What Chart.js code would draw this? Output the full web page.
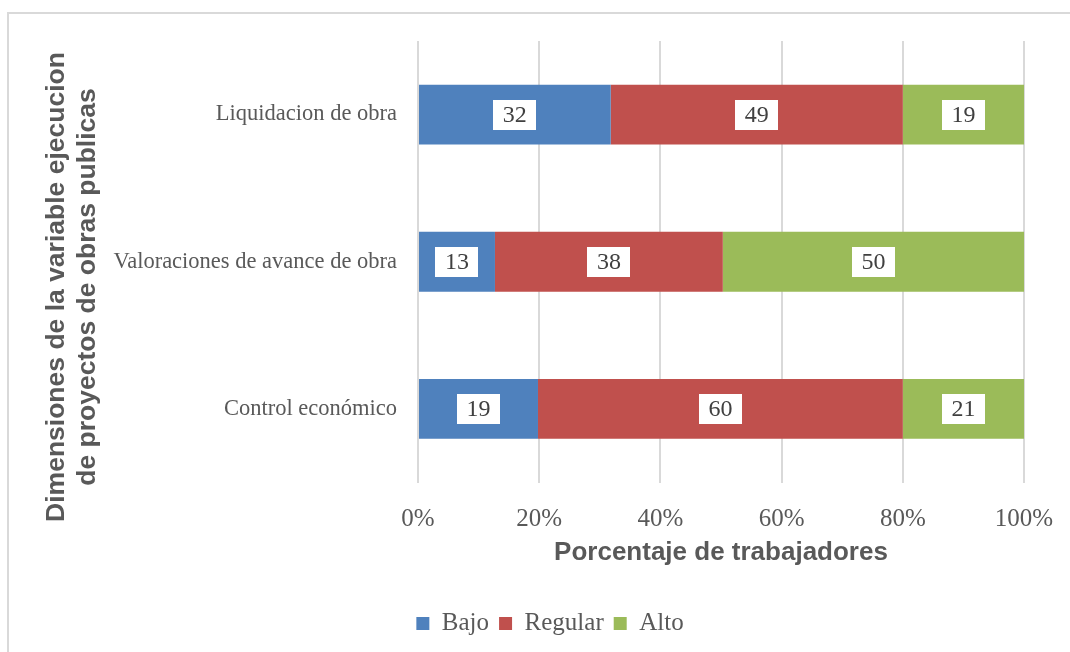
<!DOCTYPE html>
<html>
<head>
<meta charset="utf-8">
<script src="https://cdn.jsdelivr.net/npm/chart.js@4/dist/chart.umd.min.js"></script>
<style>
  html, body { margin: 0; padding: 0; background: #fff; overflow: hidden; }
  #wrap { position: relative; width: 1070px; height: 652px; }
  #frame { position: absolute; left: 7px; top: 12px; width: 1100px; height: 700px; border: 2px solid #d9d9d9; box-sizing: border-box; }
  #chart { position: absolute; left: 0; top: 0; }
</style>
</head>
<body>
<div id="wrap">
  <div id="frame"></div>
  <canvas id="chart" width="1070" height="652"></canvas>
</div>
<script>
// Data
const categories = ['Liquidacion de obra', 'Valoraciones de avance de obra', 'Control económico'];
// printed values in the white label boxes
const bajoLabels = [32, 13, 19];
const regularLabels = [49, 38, 60];
const altoLabels = [19, 50, 21];
// segment lengths (% of each bar) as measured on the bars
const bajo = [31.8, 12.7, 19.8];
const regular = [48.2, 37.6, 60.2];
const alto = [20.0, 49.7, 20.0];
const seriesNames = ['Bajo', 'Regular', 'Alto'];
const xTicks = [0, 20, 40, 60, 80, 100];
const yTitle = ['Dimensiones de la variable ejecucion', 'de proyectos de obras publicas'];
const xTitle = 'Porcentaje de trabajadores';

const colors = ['#4F81BD', '#C0504D', '#9BBB59'];
const serif = '"Liberation Serif", "DejaVu Serif", serif';
const sans = '"Liberation Sans", Arial, sans-serif';

const rows = [bajo, regular, alto];
const labelRows = [bajoLabels, regularLabels, altoLabels];

// white boxes with the printed values in the middle of each segment
const valueLabels = {
  id: 'valueLabels',
  afterDatasetsDraw(chart) {
    const ctx = chart.ctx;
    ctx.save();
    ctx.font = '24px ' + serif;
    ctx.textAlign = 'center';
    ctx.textBaseline = 'middle';
    chart.data.datasets.forEach((ds, di) => {
      const meta = chart.getDatasetMeta(di);
      meta.data.forEach((bar, i) => {
        const text = String(labelRows[di][i]);
        const cx = (bar.x + bar.base) / 2;
        const cy = bar.y;
        const w = ctx.measureText(text).width + 19;
        const h = 30;
        ctx.fillStyle = '#ffffff';
        ctx.fillRect(Math.round(cx - w / 2), Math.round(cy - h / 2), Math.round(w), h);
        ctx.fillStyle = '#404040';
        ctx.fillText(text, cx, cy + 1);
      });
    });
    ctx.restore();
  }
};

// rotated two-line title for the category axis
const yAxisTitle = {
  id: 'yAxisTitle',
  afterDraw(chart) {
    const ctx = chart.ctx;
    ctx.save();
    ctx.font = 'bold 26.5px ' + sans;
    ctx.fillStyle = '#595959';
    ctx.textAlign = 'center';
    ctx.textBaseline = 'middle';
    const xs = [57, 88];
    yTitle.forEach((line, k) => {
      ctx.save();
      ctx.translate(xs[k], 287);
      ctx.rotate(-Math.PI / 2);
      ctx.fillText(line, 0, 0);
      ctx.restore();
    });
    ctx.restore();
  }
};

const ctx = document.getElementById('chart').getContext('2d');
new Chart(ctx, {
  type: 'bar',
  data: {
    labels: categories,
    datasets: rows.map((r, i) => ({
      label: seriesNames[i],
      data: r,
      backgroundColor: colors[i],
      borderWidth: 0,
      categoryPercentage: 1,
      barPercentage: 0.407
    }))
  },
  options: {
    indexAxis: 'y',
    responsive: false,
    animation: false,
    layout: { padding: { left: 76, right: 46, top: 41, bottom: 6 } },
    scales: {
      x: {
        stacked: true,
        min: 0,
        max: 100,
        afterBuildTicks: scale => { scale.ticks = xTicks.map(v => ({ value: v })); },
        afterFit: scale => {
          scale.height = 118.5;
          scale.paddingLeft = 0;
          scale.paddingRight = 0;
        },
        grid: { color: '#d9d9d9', lineWidth: 2, drawTicks: false },
        border: { display: false },
        ticks: {
          padding: 22,
          color: '#595959',
          font: { family: serif, size: 25 },
          callback: v => v + '%'
        },
        title: {
          display: true,
          text: xTitle,
          color: '#595959',
          font: { family: sans, size: 26, weight: 'bold' },
          padding: { top: 0, bottom: 33 }
        }
      },
      y: {
        stacked: true,
        afterFit: scale => { scale.width = 342; },
        grid: { display: false },
        border: { display: false },
        ticks: {
          padding: 13,
          color: '#595959',
          font: { family: serif, size: 22.5 }
        }
      }
    },
    plugins: {
      legend: {
        position: 'bottom',
        labels: {
          boxWidth: 13,
          boxHeight: 13,
          padding: 10,
          color: '#595959',
          font: { family: serif, size: 25 }
        }
      },
      tooltip: { enabled: false }
    }
  },
  plugins: [valueLabels, yAxisTitle]
});
</script>
</body>
</html>
